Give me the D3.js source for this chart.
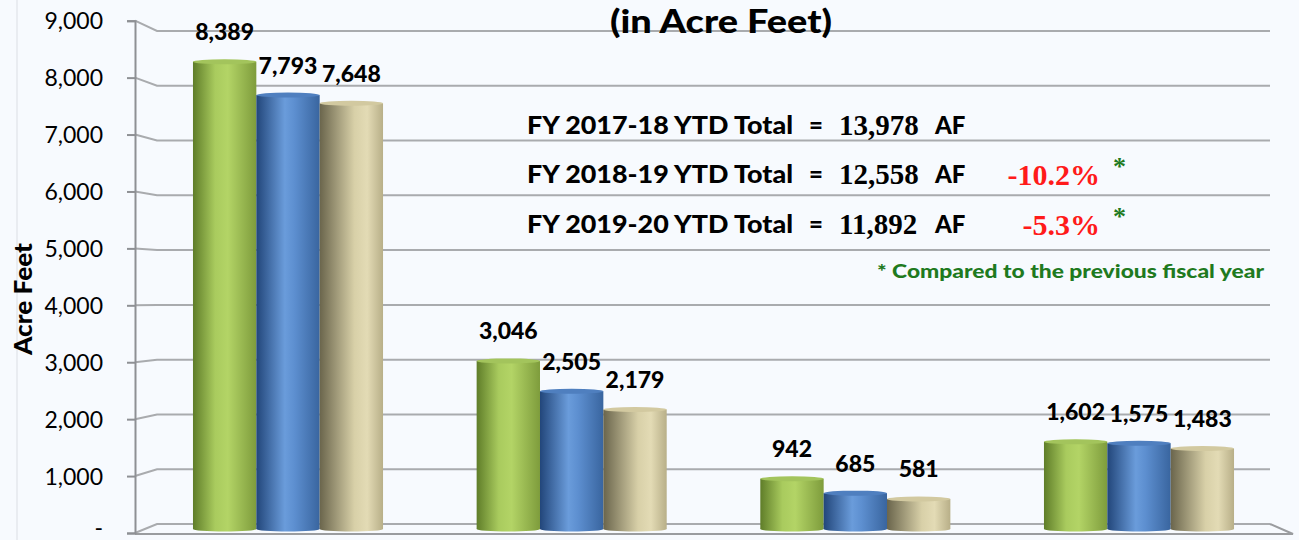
<!DOCTYPE html>
<html>
<head>
<meta charset="utf-8">
<script src="https://cdn.jsdelivr.net/npm/d3@7"></script>
<style>
  body { margin: 0; background: #f7fafe; }
  svg { display: block; }
  .tick text { font-family: Lato, sans-serif; font-size: 23px; fill: #000; }
</style>
</head>
<body>
<div class="chart"></div>
<script>
const width = 1299;
const height = 540;

// data
const categories = ["Group 1", "Group 2", "Group 3", "Group 4"];
const seriesNames = ["FY 2017-18", "FY 2018-19", "FY 2019-20"];
const fy1718 = [8389, 3046, 942, 1602];
const fy1819 = [7793, 2505, 685, 1575];
const fy1920 = [7648, 2179, 581, 1483];
const ytdTotals = [13978, 12558, 11892];
const pctChange = [null, -10.2, -5.3];
const yTicks = [0, 1000, 2000, 3000, 4000, 5000, 6000, 7000, 8000, 9000];

const seriesValues = [fy1718, fy1819, fy1920];
const data = categories.map((c, i) => ({cat: c, vals: seriesNames.map((s, j) => ({series: s, value: seriesValues[j][i]}))}));

const svg = d3.select(".chart").append("svg")
  .attr("width", width).attr("height", height);

// faint chart border at left
svg.append("line").attr("x1", 17).attr("x2", 17).attr("y1", 0).attr("y2", height)
  .attr("stroke", "#e4e7ec").attr("stroke-width", 1.5);

// three scales: front axis, back wall gridlines, bars in between
const yFront = d3.scaleLinear().domain([0, 9000]).range([533, 20.7]);
const yBack = d3.scaleLinear().domain([0, 9000]).range([524, 31]);
const yBar = d3.scaleLinear().domain([0, 9000]).range([529, 25]);

const x0 = d3.scaleBand().domain(categories).range([150, 1277]).paddingInner(0.33).paddingOuter(0.1515);
const x1 = d3.scaleBand().domain(seriesNames).range([0, x0.bandwidth()]).padding(0);

const axisX = 135, wallX = 157, wallEnd = 1270;

// gridlines (back wall, with the slanted side wall piece)
const grid = svg.append("g");
grid.selectAll("path").data(yTicks).enter().append("path")
  .attr("d", d => `M${axisX},${yFront(d)} L${wallX},${yBack(d)} L${wallEnd},${yBack(d)}`)
  .attr("fill", "none").attr("stroke", "#a9abae").attr("stroke-width", 2);

// floor
svg.append("path")
  .attr("d", `M${wallEnd},${yBack(0)} L1293,${yFront(0) + 1} L${axisX},${yFront(0) + 1}`)
  .attr("fill", "none").attr("stroke", "#9a9c9f").attr("stroke-width", 2);

// y axis
const yAxis = d3.axisLeft(yFront).tickValues(yTicks)
  .tickFormat(d => d === 0 ? "-" : d3.format(",")(d))
  .tickSize(8).tickPadding(24);
const ax = svg.append("g").attr("transform", `translate(${axisX},0)`).call(yAxis);
ax.selectAll("line").attr("stroke", "#8e9094").attr("stroke-width", 2);
ax.select(".domain").attr("stroke", "#8e9094").attr("stroke-width", 2);
ax.selectAll(".tick text").attr("dy", d => d === 0 ? "0.1em" : "0.36em");

// axis title
svg.append("text")
  .attr("transform", `translate(32,${299}) rotate(-90)`)
  .attr("text-anchor", "middle")
  .style("font-family", "Lato, sans-serif").style("font-weight", "900").style("font-size", "24px")
  .attr("textLength", 112).attr("lengthAdjust", "spacingAndGlyphs")
  .text("Acre Feet");

// cylinder gradients
const defs = svg.append("defs");
const grads = [
  {id: "g0", stops: [["0%", "#5f7d29"], ["35%", "#a9cb5e"], ["55%", "#b3d466"], ["100%", "#7e9c3c"]], top: "#a3c45c"},
  {id: "g1", stops: [["0%", "#22467a"], ["45%", "#6a9cdb"], ["60%", "#5d8fd0"], ["100%", "#39659f"]], top: "#4f7fbf"},
  {id: "g2", stops: [["0%", "#6a654c"], ["55%", "#d8d0a8"], ["75%", "#e3dbb5"], ["100%", "#b8af88"]], top: "#d2c9a0"}
];
grads.forEach(g => {
  const lg = defs.append("linearGradient").attr("id", g.id).attr("x1", "0%").attr("x2", "100%");
  g.stops.forEach(s => lg.append("stop").attr("offset", s[0]).attr("stop-color", s[1]));
});
const color = d3.scaleOrdinal().domain(seriesNames).range(grads.map(g => `url(#${g.id})`));
const topColor = d3.scaleOrdinal().domain(seriesNames).range(grads.map(g => g.top));

const groups = svg.selectAll(".group").data(data).enter().append("g")
  .attr("class", "group").attr("transform", d => `translate(${x0(d.cat)},0)`);

const bars = groups.selectAll(".bar").data(d => d.vals).enter().append("g").attr("class", "bar");
const ry = 2.5;
bars.append("ellipse")
  .attr("cx", d => x1(d.series) + x1.bandwidth() / 2).attr("cy", yBar(0))
  .attr("rx", x1.bandwidth() / 2).attr("ry", ry)
  .attr("fill", d => color(d.series));
bars.append("rect")
  .attr("x", d => x1(d.series)).attr("width", x1.bandwidth())
  .attr("y", d => yBar(d.value) + ry).attr("height", d => yBar(0) - yBar(d.value) - ry)
  .attr("fill", d => color(d.series));
bars.append("ellipse")
  .attr("cx", d => x1(d.series) + x1.bandwidth() / 2).attr("cy", d => yBar(d.value) + ry)
  .attr("rx", x1.bandwidth() / 2).attr("ry", ry)
  .attr("fill", d => topColor(d.series));

// value labels
bars.append("text")
  .attr("x", d => x1(d.series) + x1.bandwidth() / 2)
  .attr("y", d => yBar(d.value) - 19)
  .attr("text-anchor", "middle")
  .style("font-family", "Lato, sans-serif").style("font-weight", "900").style("font-size", "23px")
  .text(d => d3.format(",")(d.value));

// title (top part cut off in the original)
svg.append("text")
  .attr("x", 721).attr("y", 33).attr("text-anchor", "middle")
  .style("font-family", "Lato, sans-serif").style("font-weight", "900").style("font-size", "33px")
  .attr("textLength", 222).attr("lengthAdjust", "spacingAndGlyphs")
  .text("(in Acre Feet)");

// YTD totals block
const rowY = [134, 183, 233];
const sans = "Lato, sans-serif", serif = "'Liberation Serif', 'Times New Roman', serif";
const rows = svg.selectAll(".ytd").data(seriesNames).enter().append("g").attr("class", "ytd");
rows.append("text").attr("x", 527).attr("y", (d, i) => rowY[i])
  .style("font-family", sans).style("font-weight", "900").style("font-size", "24px")
  .attr("textLength", 266).attr("lengthAdjust", "spacingAndGlyphs")
  .text(d => `${d} YTD Total`);
rows.append("text").attr("x", 809).attr("y", (d, i) => rowY[i])
  .style("font-family", sans).style("font-weight", "900").style("font-size", "24px")
  .text("=");
rows.append("text").attr("x", 839).attr("y", (d, i) => rowY[i] + 1)
  .style("font-family", serif).style("font-weight", "bold").style("font-size", "29px")
  .text((d, i) => d3.format(",")(ytdTotals[i]));
rows.append("text").attr("x", 935).attr("y", (d, i) => rowY[i])
  .style("font-family", sans).style("font-weight", "900").style("font-size", "24px")
  .text("AF");
rows.filter((d, i) => pctChange[i] !== null).append("text")
  .attr("x", 1100).attr("y", d => rowY[seriesNames.indexOf(d)] + 2).attr("text-anchor", "end")
  .style("font-family", serif).style("font-weight", "bold").style("font-size", "30px").attr("fill", "#ff1a1a")
  .text(d => pctChange[seriesNames.indexOf(d)].toFixed(1) + "%");
rows.filter((d, i) => pctChange[i] !== null).append("text")
  .attr("x", 1113).attr("y", d => rowY[seriesNames.indexOf(d)] - 8)
  .style("font-family", serif).style("font-weight", "bold").style("font-size", "26px").attr("fill", "#1f7a1f")
  .text("*");

svg.append("text").attr("x", 1264).attr("y", 278).attr("text-anchor", "end")
  .style("font-family", sans).style("font-weight", "900").style("font-size", "19px").attr("fill", "#1f7a1f")
  .attr("textLength", 387).attr("lengthAdjust", "spacingAndGlyphs")
  .text("* Compared to the previous fiscal year");
</script>
</body>
</html>
